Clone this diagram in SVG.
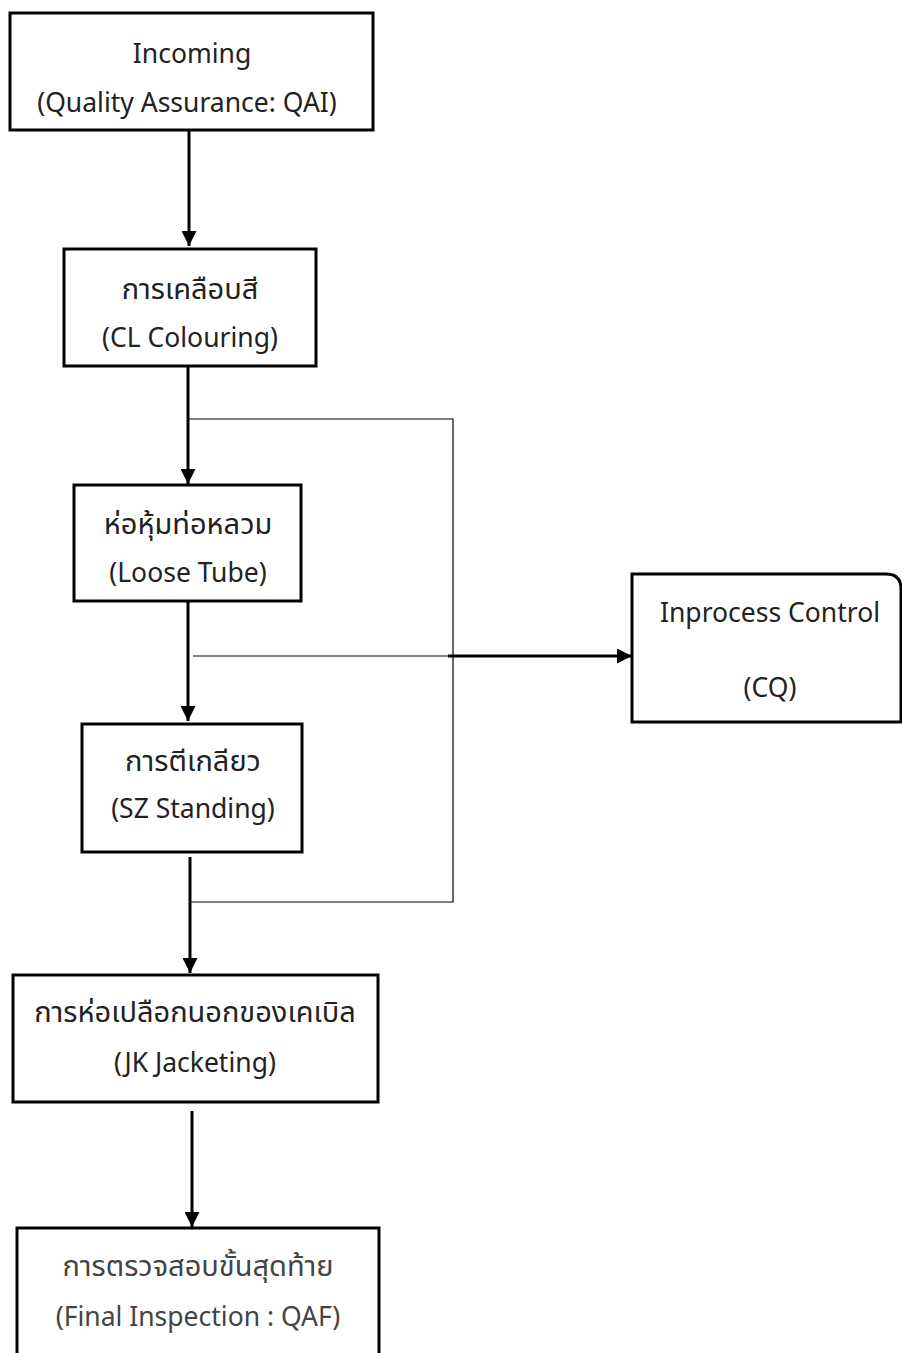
<svg xmlns="http://www.w3.org/2000/svg" width="902" height="1353" viewBox="0 0 902 1353">
<defs>
<marker id="ah" viewBox="0 0 10 10" refX="10" refY="5" markerWidth="5" markerHeight="5" markerUnits="strokeWidth" orient="auto">
<path d="M0,0 L10,5 L0,10 Z" fill="#000"/>
</marker>
<style>
.box{fill:#fff;stroke:#000;stroke-width:3}
.t{font-family:"Noto Sans","Noto Sans Thai","DejaVu Sans",sans-serif;font-size:26.5px;fill:#222;text-anchor:middle}
.th{font-size:29px}
.g{fill:#444}
.thick{stroke:#000;stroke-width:3;fill:none}
.thin{stroke:#000;stroke-width:1.2;fill:none}
</style>
</defs>
<rect width="902" height="1353" fill="#fff"/>
<g id="connectors">
<line class="thick" x1="189" y1="130" x2="189" y2="246" marker-end="url(#ah)"/>
<line class="thick" x1="188" y1="366" x2="188" y2="484" marker-end="url(#ah)"/>
<line class="thick" x1="188" y1="601" x2="188" y2="721" marker-end="url(#ah)"/>
<line class="thick" x1="190" y1="857" x2="190" y2="973" marker-end="url(#ah)"/>
<line class="thick" x1="192" y1="1111" x2="192" y2="1227" marker-end="url(#ah)"/>
<polyline class="thin" points="188,419 453,419 453,902 190,902"/>
<line class="thin" x1="193" y1="656" x2="450" y2="656"/>
<line class="thick" x1="448" y1="656" x2="632" y2="656" marker-end="url(#ah)"/>
</g>
<g id="n1">
<rect class="box" x="10" y="13" width="363" height="117"/>
<text class="t" x="192" y="63">Incoming</text>
<text class="t" x="187" y="112">(Quality Assurance: QAI)</text>
</g>
<g id="n2">
<rect class="box" x="64" y="249" width="252" height="117"/>
<text class="t th" x="190" y="299">การเคลือบสี</text>
<text class="t" x="190" y="347">(CL Colouring)</text>
</g>
<g id="n3">
<rect class="box" x="74" y="485" width="227" height="116"/>
<text class="t th" x="188" y="534">ห่อหุ้มท่อหลวม</text>
<text class="t" x="188" y="582">(Loose Tube)</text>
</g>
<g id="n4">
<rect class="box" x="82" y="724" width="220" height="128"/>
<text class="t th" x="193" y="771">การตีเกลียว</text>
<text class="t" x="193" y="818">(SZ Standing)</text>
</g>
<g id="n5">
<rect class="box" x="13" y="975" width="365" height="127"/>
<text class="t th" x="195" y="1022">การห่อเปลือกนอกของเคเบิล</text>
<text class="t" x="195" y="1072">(JK Jacketing)</text>
</g>
<g id="n6">
<rect class="box" x="17" y="1228" width="362" height="140"/>
<text class="t th g" x="198" y="1276">การตรวจสอบขั้นสุดท้าย</text>
<text class="t g" x="198" y="1326">(Final Inspection : QAF)</text>
</g>
<g id="cq">
<path class="box" d="M632,574 H886 Q901,574 901,589 V722 H632 Z"/>
<text class="t" x="770" y="622">Inprocess Control</text>
<text class="t" x="770" y="697">(CQ)</text>
</g>
</svg>
